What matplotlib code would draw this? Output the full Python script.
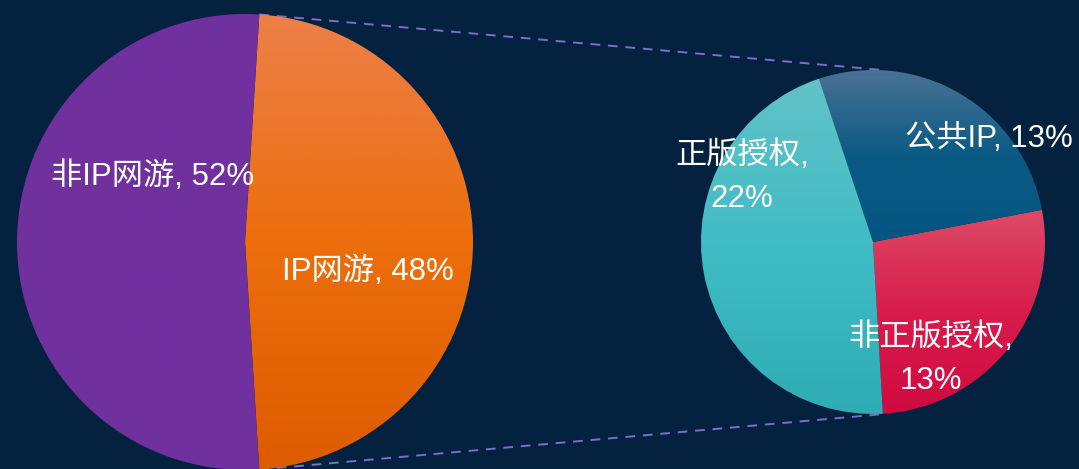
import numpy as np
import matplotlib.pyplot as plt
from matplotlib.colors import LinearSegmentedColormap

plt.rcParams['font.family'] = ['Liberation Sans', 'Noto Sans CJK SC', 'DejaVu Sans']

# данные
main_labels = ['IP网游', '非IP网游']
main_values = [48, 52]
sub_labels = ['非正版授权', '公共IP', '正版授权']
sub_values = [13, 13, 22]

# цвета градиента: сверху вниз
main_colors = [('#EC8048', '#EC6E0C', '#DE5C00'), ('#70309E', '#70309E')]
sub_colors = [('#DC4A66', '#D81C4C', '#D00A40'),
              ('#4A7294', '#0A5A84', '#045682'),
              ('#62C2C8', '#40BCC4', '#30ACB4')]

bg = '#04213F'
W, H = 1079, 469

fig = plt.figure(figsize=(W / 100, H / 100), dpi=100, facecolor=bg)
ax = fig.add_axes([0, 0, 1, 1])
ax.set_facecolor(bg)


def fill_gradient(wedges, colors):
    # вертикальный градиент внутри каждого сектора
    inv = ax.transData.inverted()
    for w, cols in zip(wedges, colors):
        w.set_facecolor('none')
        w.set_edgecolor('none')
        bb = w.get_window_extent()
        (dx0, dy0), (dx1, dy1) = inv.transform([[bb.x0, bb.y0], [bb.x1, bb.y1]])
        cmap = LinearSegmentedColormap.from_list('g', list(cols)[::-1])
        grad = np.linspace(0, 1, 256).reshape(-1, 1)
        im = ax.imshow(grad, cmap=cmap, extent=[dx0, dx1, dy0, dy1],
                       origin='lower', aspect='auto', zorder=1)
        im.set_clip_path(w)


# большой круг
c1 = (245, H - 242)
r1 = 228
start1 = -main_values[0] / 100 * 180
w1, _ = ax.pie(main_values, center=c1, radius=r1, startangle=start1,
               counterclock=True, frame=True)

# малый круг
c2 = (873, H - 242)
r2 = 172
w2, _ = ax.pie(sub_values, center=c2, radius=r2, startangle=-86.7,
               counterclock=True, frame=True)

ax.set_xlim(0, W)
ax.set_ylim(0, H)
ax.set_aspect('equal')
ax.axis('off')
fig.canvas.draw()
fill_gradient(w1, main_colors)
fill_gradient(w2, sub_colors)

# пунктирные линии
a_top = np.deg2rad(start1 + main_values[0] / 100 * 360)
a_bot = np.deg2rad(start1)
p_top = (c1[0] + r1 * np.cos(a_top), c1[1] + r1 * np.sin(a_top))
p_bot = (c1[0] + r1 * np.cos(a_bot), c1[1] + r1 * np.sin(a_bot))
ax.plot([p_top[0], 882], [p_top[1], H - 70], color='#7D6FC4', lw=1.4,
        ls=(0, (5, 4)), zorder=0.5, clip_on=False)
ax.plot([p_bot[0], 884], [p_bot[1], H - 414], color='#7D6FC4', lw=1.4,
        ls=(0, (5, 4)), zorder=0.5, clip_on=False)

# подписи
fs = 22.5
txt = dict(color='white', fontsize=fs, ha='center', va='center', zorder=5)
ax.text(153, H - 177, f'{main_labels[1]}, {main_values[1]}%', **txt)
ax.text(368, H - 272, f'{main_labels[0]}, {main_values[0]}%', **txt)
ax.text(989, H - 139, f'{sub_labels[1]}, {sub_values[1]}%', **txt)
ax.text(742, H - 177, f'{sub_labels[2]},\n{sub_values[2]}%', linespacing=1.55, **txt)
ax.text(931, H - 359, f'{sub_labels[0]},\n{sub_values[0]}%', linespacing=1.55, **txt)

fig.savefig('out.png', dpi=100, facecolor=bg)
